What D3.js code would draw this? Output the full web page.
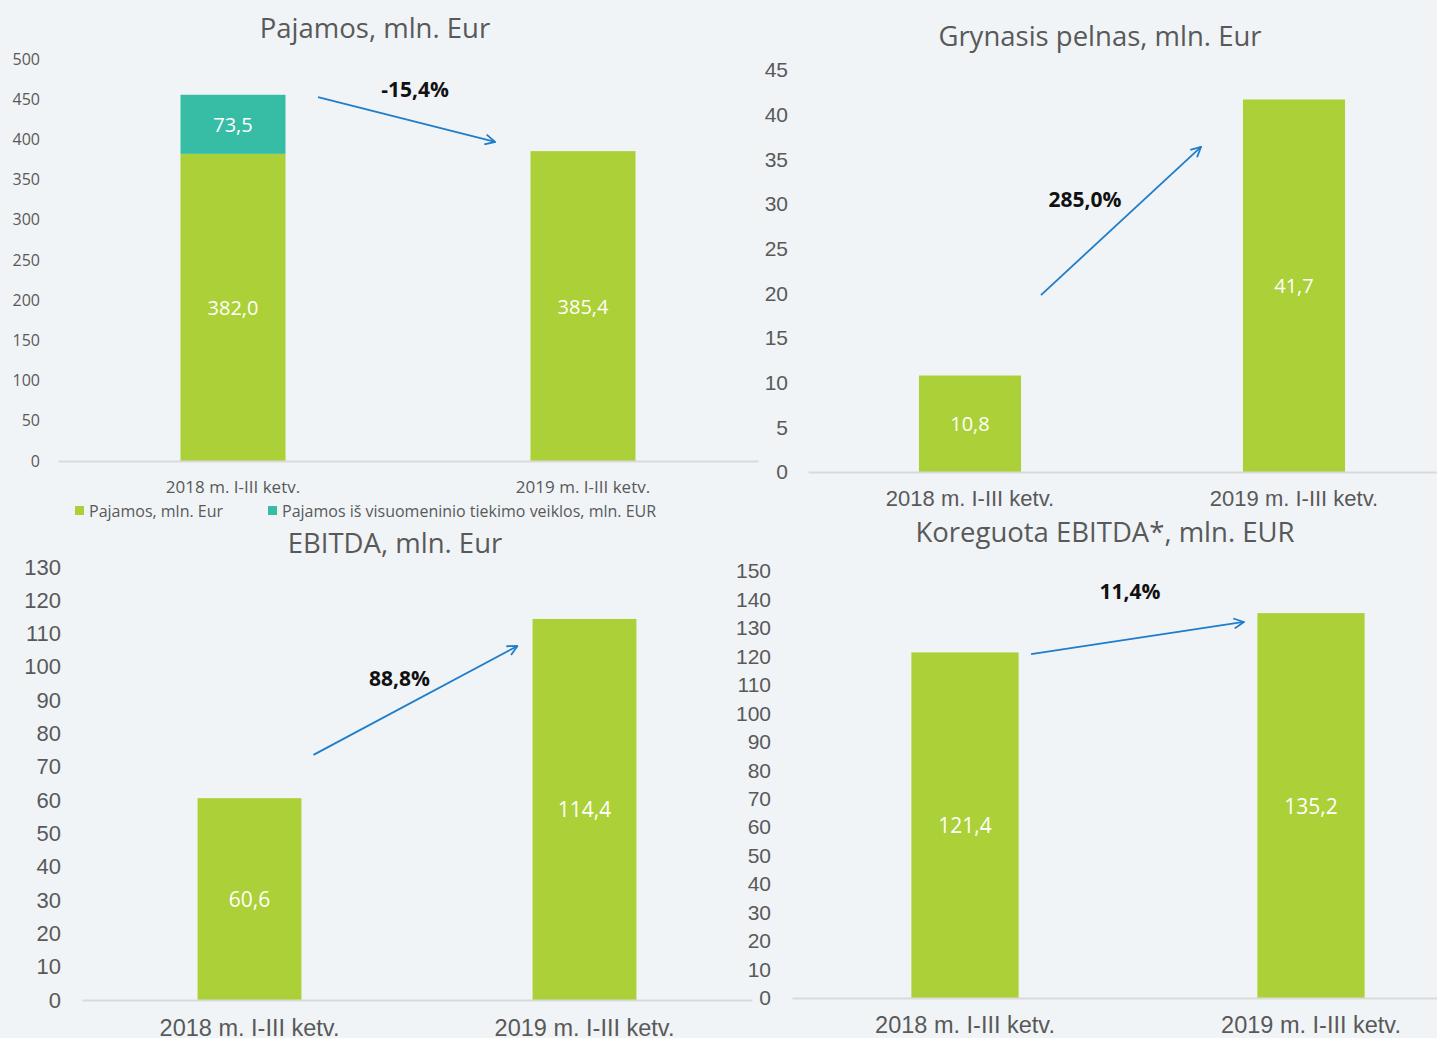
<!DOCTYPE html>
<html>
<head>
<meta charset="utf-8">
<script src="https://cdn.jsdelivr.net/npm/d3@7"></script>
<style>
  html, body { margin: 0; padding: 0; background: #f0f4f7; }
  svg { display: block; }
</style>
</head>
<body>
<svg id="chart" width="1437" height="1038"></svg>
<script>
// data
var categories = ["2018 m. I-III ketv.", "2019 m. I-III ketv."];
var pajamos = [382.0, 385.4];
var pajamosVisuomeninio = [73.5, 0];
var grynasisPelnas = [10.8, 41.7];
var ebitda = [60.6, 114.4];
var koreguotaEbitda = [121.4, 135.2];
var titles = ["Pajamos, mln. Eur", "Grynasis pelnas, mln. Eur", "EBITDA, mln. Eur", "Koreguota EBITDA*, mln. EUR"];
var changes = ["-15,4%", "285,0%", "88,8%", "11,4%"];
var legendLabels = ["Pajamos, mln. Eur", "Pajamos iš visuomeninio tiekimo veiklos, mln. EUR"];
var fmt = function(v) { return d3.format(".1f")(v).replace(".", ","); };

var green = "#acd037", teal = "#37bda5", arrowColor = "#1f7dc9", grey = "#595959";

var svg = d3.select("#chart");

svg.append("defs").append("marker")
    .attr("id", "arrowhead")
    .attr("viewBox", "0 0 12 12")
    .attr("refX", 11).attr("refY", 6)
    .attr("markerWidth", 12).attr("markerHeight", 12)
    .attr("markerUnits", "userSpaceOnUse")
    .attr("orient", "auto")
  .append("path")
    .attr("d", "M1,1 L11,6 L1,11")
    .attr("fill", "none")
    .attr("stroke", arrowColor)
    .attr("stroke-width", 1.8);

var panels = [
  { title: titles[0], series: [pajamos, pajamosVisuomeninio], colors: [green, teal],
    left: 58, right: 758, y0: 461, yTop: 59, max: 500, step: 50,
    tickX: 40, tickFont: "16px 'Open Sans'", catY: 486, catFont: "17px 'Open Sans'",
    titleX: 375, titleY: 27, labelFont: "20px 'Open Sans'", pad: 0.7,
    arrow: { from: [0.243, 452.7], to: [0.749, 396.8], label: [0.52, 462.7], text: changes[0] } },
  { title: titles[1], series: [grynasisPelnas], colors: [green],
    left: 808, right: 1456, y0: 472, yTop: 70, max: 45, step: 5,
    tickX: 788, tickFont: "21px 'Liberation Sans'", catY: 498, catFont: "22px 'Liberation Sans'",
    titleX: 1100, titleY: 35, labelFont: "20px 'Open Sans'", pad: 0.685,
    arrow: { from: [0.219, 19.8], to: [0.713, 36.4], label: [0.355, 30.6], text: changes[1] } },
  { title: titles[2], series: [ebitda], colors: [green],
    left: 82, right: 752, y0: 1000, yTop: 567, max: 130, step: 10,
    tickX: 61, tickFont: "22px 'Liberation Sans'", catY: 1028, catFont: "23.5px 'Liberation Sans'",
    titleX: 395, titleY: 542, labelFont: "21px 'Open Sans'", pad: 0.69,
    arrow: { from: [0.191, 73.6], to: [0.800, 106.3], label: [0.448, 96.7], text: changes[2] } },
  { title: titles[3], series: [koreguotaEbitda], colors: [green],
    left: 792, right: 1484, y0: 998, yTop: 571, max: 150, step: 10,
    tickX: 771, tickFont: "21px 'Liberation Sans'", catY: 1025, catFont: "23.5px 'Liberation Sans'",
    titleX: 1105, titleY: 531, labelFont: "21px 'Open Sans'", pad: 0.69,
    arrow: { from: [0.191, 120.8], to: [0.806, 132.1], label: [0.477, 143], text: changes[3] } }
];

panels.forEach(function(p) {
  var g = svg.append("g");

  var x = d3.scaleBand().domain(categories).range([p.left, p.right]).paddingInner(p.pad).paddingOuter(p.pad / 2);
  var y = d3.scaleLinear().domain([0, p.max]).range([p.y0, p.yTop]);
  // index scale for annotations: 0 = first bar centre, 1 = second bar centre
  var xi = d3.scaleLinear().domain([0, 1])
      .range([x(categories[0]) + x.bandwidth() / 2, x(categories[1]) + x.bandwidth() / 2]);

  // title
  g.append("text")
      .attr("x", p.titleX).attr("y", p.titleY)
      .attr("text-anchor", "middle").attr("dominant-baseline", "central")
      .style("font", "27.5px 'Open Sans'").style("fill", grey)
      .text(p.title);

  // y axis labels
  var yAxis = d3.axisLeft(y).tickValues(d3.range(0, p.max + 0.001, p.step)).tickSize(0).tickPadding(0);
  var ya = g.append("g").attr("transform", "translate(" + p.tickX + ",0)").call(yAxis);
  ya.select(".domain").remove();
  ya.selectAll("text").style("font", p.tickFont).style("fill", grey);

  // stacked bars
  var stacked = categories.map(function(c, i) {
    var row = { cat: c };
    p.series.forEach(function(s, k) { row["s" + k] = s[i]; });
    return row;
  });
  var keys = p.series.map(function(s, k) { return "s" + k; });
  var layers = d3.stack().keys(keys)(stacked);

  layers.forEach(function(layer, k) {
    g.selectAll(null)
      .data(layer.filter(function(d) { return d[1] - d[0] > 0; }))
      .enter().append("rect")
        .attr("x", function(d) { return x(d.data.cat); })
        .attr("width", x.bandwidth())
        .attr("y", function(d) { return y(d[1]); })
        .attr("height", function(d) { return y(d[0]) - y(d[1]); })
        .attr("fill", p.colors[k]);

    g.selectAll(null)
      .data(layer.filter(function(d) { return d[1] - d[0] > 0; }))
      .enter().append("text")
        .attr("x", function(d) { return x(d.data.cat) + x.bandwidth() / 2; })
        .attr("y", function(d) { return y((d[0] + d[1]) / 2); })
        .attr("text-anchor", "middle").attr("dominant-baseline", "central")
        .style("font", p.labelFont).style("fill", "#fff")
        .text(function(d) { return fmt(d[1] - d[0]); });
  });

  // x axis
  var xAxis = d3.axisBottom(x).tickSize(0).tickPadding(0);
  var xa = g.append("g").attr("transform", "translate(0," + p.y0 + ")").call(xAxis);
  xa.select(".domain").attr("stroke", "#d9d9d9").attr("stroke-width", 2);
  xa.selectAll("text").attr("y", p.catY - p.y0).attr("dy", null)
    .attr("dominant-baseline", "central")
    .style("font", p.catFont).style("fill", grey);

  // change arrow
  var a = p.arrow;
  g.append("line")
      .attr("x1", xi(a.from[0])).attr("y1", y(a.from[1]))
      .attr("x2", xi(a.to[0])).attr("y2", y(a.to[1]))
      .attr("stroke", arrowColor).attr("stroke-width", 1.8)
      .attr("marker-end", "url(#arrowhead)");
  g.append("text")
      .attr("x", xi(a.label[0])).attr("y", y(a.label[1]))
      .attr("text-anchor", "middle").attr("dominant-baseline", "central")
      .style("font", "bold 21px 'Open Sans'").style("fill", "#111")
      .text(a.text);

  // legend for the stacked chart only
  if (p.series.length > 1) {
    var lx = [75, 268];
    legendLabels.forEach(function(l, k) {
      g.append("rect").attr("x", lx[k]).attr("y", 506).attr("width", 9).attr("height", 9).attr("fill", p.colors[k]);
      g.append("text").attr("x", lx[k] + 14).attr("y", 511).attr("dominant-baseline", "central")
        .style("font", "16px 'Open Sans'").style("fill", grey).text(l);
    });
  }
});
</script>
</body>
</html>
